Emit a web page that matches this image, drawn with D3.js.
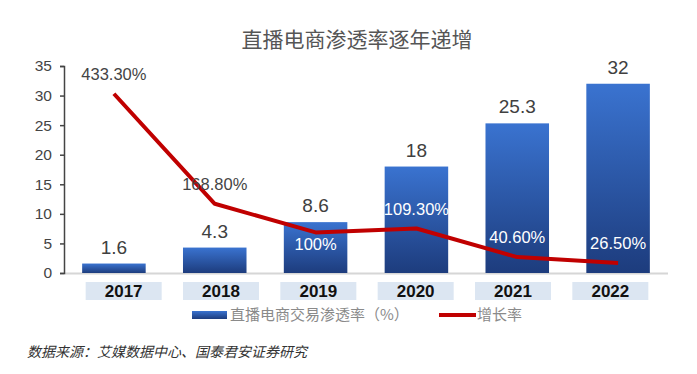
<!DOCTYPE html>
<html>
<head>
<meta charset="utf-8">
<script src="https://cdn.jsdelivr.net/npm/d3@7"></script>
<style>
  body { margin: 0; background: #fff; }
  svg { display: block; }
</style>
</head>
<body>
<svg></svg>
<script>
// data
var years = ["2017", "2018", "2019", "2020", "2021", "2022"];
var penetration = [1.6, 4.3, 8.6, 18, 25.3, 32];
var growth = [433.3, 168.8, 100, 109.3, 40.6, 26.5];
var growthLabels = ["433.30%", "168.80%", "100%", "109.30%", "40.60%", "26.50%"];
var yTicks = [0, 5, 10, 15, 20, 25, 30, 35];

var W = 697, H = 374;
var plotL = 64, plotR = 668, plotT = 66, plotB = 273;
var cjk = "'Noto Sans CJK SC', sans-serif";
var latin = "Arial, 'Liberation Sans', sans-serif";

var svg = d3.select("svg").attr("width", W).attr("height", H);

var defs = svg.append("defs");
var grad = defs.append("linearGradient")
    .attr("id", "barGrad").attr("x1", 0).attr("y1", 0).attr("x2", 0).attr("y2", 1);
grad.append("stop").attr("offset", "0%").attr("stop-color", "#3a73d0");
grad.append("stop").attr("offset", "100%").attr("stop-color", "#1d3c7d");

var x = d3.scaleBand().domain(years).range([plotL, plotR]).paddingInner(0.37).paddingOuter(0.18);
var xLab = d3.scaleBand().domain(years).range([75, 659]);
var y = d3.scaleLinear().domain([0, 35]).range([plotB, plotT]);
var y2 = d3.scaleLinear().domain([0, 500]).range([plotB + 1, plotT]);

function cx(i) { return x(years[i]) + x.bandwidth() / 2; }

// title
svg.append("text")
    .attr("x", 357).attr("y", 47)
    .attr("text-anchor", "middle")
    .attr("font-family", cjk).attr("font-size", 21)
    .attr("fill", "#555")
    .text("直播电商渗透率逐年递增");

// baseline
svg.append("line")
    .attr("x1", plotL).attr("x2", plotR)
    .attr("y1", plotB + 0.5).attr("y2", plotB + 0.5)
    .attr("stroke", "#d6d6d6").attr("stroke-width", 2);

// y axis
var yAxis = svg.append("g")
    .attr("transform", "translate(" + plotL + ",0)")
    .call(d3.axisLeft(y).tickValues(yTicks).tickSize(4).tickPadding(8));
yAxis.select(".domain").attr("stroke", "#444").attr("stroke-width", 1.5);
yAxis.selectAll(".tick line").attr("stroke", "#444").attr("stroke-width", 1.5);
yAxis.selectAll("text")
    .attr("font-family", latin).attr("font-size", 15.5).attr("fill", "#444");

// bars
svg.append("g").selectAll("rect")
    .data(penetration)
    .enter().append("rect")
    .attr("x", function(d, i) { return x(years[i]); })
    .attr("width", x.bandwidth())
    .attr("y", function(d) { return y(d); })
    .attr("height", function(d) { return y(0) - y(d); })
    .attr("fill", "url(#barGrad)");

// bar value labels
svg.append("g").selectAll("text")
    .data(penetration)
    .enter().append("text")
    .attr("x", function(d, i) { return cx(i); })
    .attr("y", function(d) { return y(d) - 10; })
    .attr("text-anchor", "middle")
    .attr("font-family", latin).attr("font-size", 19)
    .attr("fill", "#404040")
    .text(function(d) { return d; });

// growth line
var line = d3.line()
    .x(function(d, i) { return cx(i); })
    .y(function(d) { return y2(d); });

svg.append("path")
    .datum(growth)
    .attr("d", line)
    .attr("fill", "none")
    .attr("stroke", "#c00000")
    .attr("stroke-width", 4)
    .attr("stroke-linejoin", "round");

// growth labels, the 2019 one sits under the line
var below = [false, false, true, false, false, false];
svg.append("g").selectAll("text")
    .data(growth)
    .enter().append("text")
    .attr("x", function(d, i) { return cx(i); })
    .attr("y", function(d, i) { return below[i] ? y2(d) + 18 : y2(d) - 14; })
    .attr("text-anchor", "middle")
    .attr("font-family", latin).attr("font-size", 16.5)
    .attr("fill", function(d, i) {
        var ly = below[i] ? y2(d) + 12 : y2(d) - 20;
        return ly > y(penetration[i]) ? "#fff" : "#444";
    })
    .text(function(d, i) { return growthLabels[i]; });

// category labels
var cat = svg.append("g").selectAll("g")
    .data(years)
    .enter().append("g")
    .attr("transform", function(d) { return "translate(" + (xLab(d) + xLab.bandwidth() / 2) + ",291)"; });
cat.append("rect")
    .attr("x", -38).attr("y", -9).attr("width", 76).attr("height", 18)
    .attr("fill", "#dce6f2");
cat.append("text")
    .attr("y", 6)
    .attr("text-anchor", "middle")
    .attr("font-family", latin).attr("font-size", 17).attr("font-weight", "bold")
    .attr("fill", "#111")
    .text(function(d) { return d; });

// legend
var lg = svg.append("g");
lg.append("rect")
    .attr("x", 192).attr("y", 311).attr("width", 35).attr("height", 8)
    .attr("fill", "url(#barGrad)");
lg.append("text")
    .attr("x", 230).attr("y", 320)
    .attr("font-family", cjk).attr("font-size", 15).attr("fill", "#8a8a8a")
    .text("直播电商交易渗透率（%）");
lg.append("line")
    .attr("x1", 439).attr("x2", 476).attr("y1", 315).attr("y2", 315)
    .attr("stroke", "#c00000").attr("stroke-width", 4);
lg.append("text")
    .attr("x", 477).attr("y", 320)
    .attr("font-family", cjk).attr("font-size", 15).attr("fill", "#8a8a8a")
    .text("增长率");

// source
svg.append("text")
    .attr("x", 27).attr("y", 357)
    .attr("font-family", cjk).attr("font-size", 14)
    .attr("font-style", "italic")
    .attr("fill", "#333")
    .text("数据来源：艾媒数据中心、国泰君安证券研究");
</script>
</body>
</html>
